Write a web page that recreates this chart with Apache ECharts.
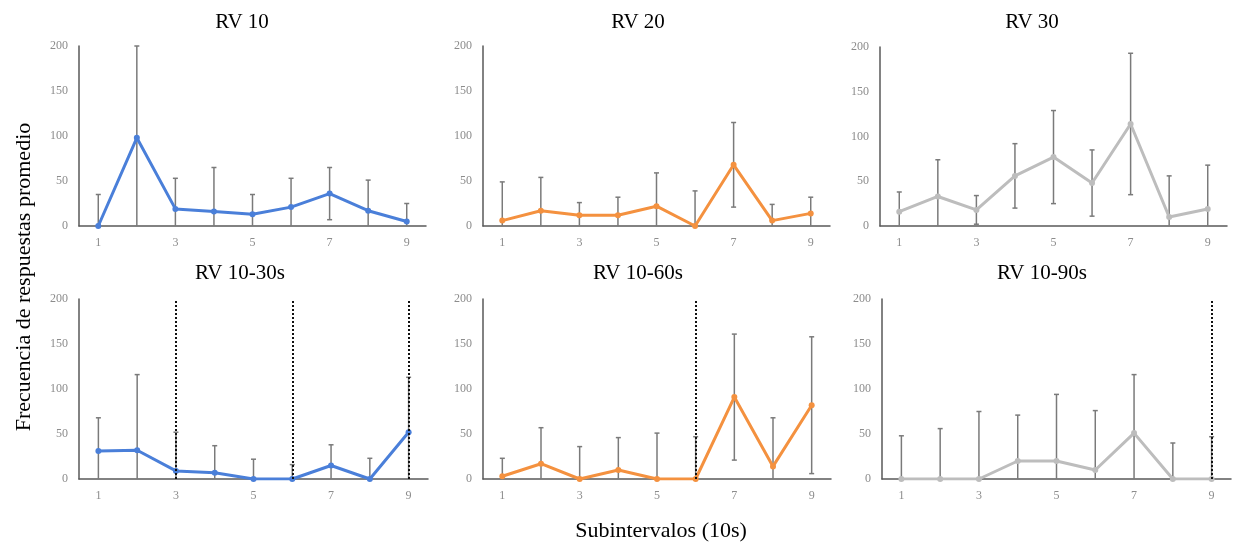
<!DOCTYPE html>
<html>
<head>
<meta charset="utf-8">
<script src="https://cdn.jsdelivr.net/npm/echarts@6/dist/echarts.min.js"></script>
<style>html,body{margin:0;padding:0;background:#fff}#c{width:1235px;height:548px}</style>
</head>
<body>
<div id="c"></div>
<script>
const categories = ['1','2','3','4','5','6','7','8','9'];
const panelTitles = ['RV 10','RV 20','RV 30','RV 10-30s','RV 10-60s','RV 10-90s'];
const yTicks = [0, 50, 100, 150, 200];

const rv10Mean = [0, 98, 19, 16, 13, 21, 36, 17, 5];
const rv10Sd   = [35, 102, 34, 49, 22, 32, 29, 34, 20];
const rv20Mean = [6, 17, 12, 12, 22, 0, 68, 6, 14];
const rv20Sd   = [43, 37, 14, 20, 37, 39, 47, 18, 18];
const rv30Mean = [16, 33, 18, 56, 77, 48, 114, 10, 19];
const rv30Sd   = [22, 41, 16, 36, 52, 37, 79, 46, 49];
const rv1030Mean = [31, 32, 9, 7, 0, 0, 15, 0, 52];
const rv1030Sd   = [37, 84, 43, 30, 22, 16, 23, 23, 61];
const rv1060Mean = [3, 17, 0, 10, 0, 0, 91, 14, 82];
const rv1060Sd   = [20, 40, 36, 36, 51, 47, 70, 54, 76];
const rv1090Mean = [0, 0, 0, 20, 20, 10, 51, 0, 0];
const rv1090Sd   = [48, 56, 75, 51, 74, 66, 65, 40, 47];

const rv1030Marks = ['3', '6', '9'];
const rv1060Marks = ['6'];
const rv1090Marks = ['9'];

const BLUE = '#4a7fd9', ORANGE = '#f4913f', GREY = '#bdbdbd';
const panels = [
  {mean: rv10Mean, sd: rv10Sd, color: BLUE, marks: []},
  {mean: rv20Mean, sd: rv20Sd, color: ORANGE, marks: []},
  {mean: rv30Mean, sd: rv30Sd, color: GREY, marks: []},
  {mean: rv1030Mean, sd: rv1030Sd, color: BLUE, marks: rv1030Marks},
  {mean: rv1060Mean, sd: rv1060Sd, color: ORANGE, marks: rv1060Marks},
  {mean: rv1090Mean, sd: rv1090Sd, color: GREY, marks: rv1090Marks}
];
const grids = [
  {left: 79, top: 46, width: 347, height: 180},
  {left: 483, top: 46, width: 347, height: 180},
  {left: 880, top: 47, width: 347, height: 179},
  {left: 79, top: 299, width: 349, height: 180},
  {left: 483, top: 299, width: 348, height: 180},
  {left: 882, top: 299, width: 349, height: 180}
];
const titlePos = [[242, 12], [638, 12], [1032, 12], [240, 263], [638, 263], [1042, 263]];
const YMAX = yTicks[yTicks.length - 1];
const FONT = '"Liberation Serif", "DejaVu Serif", serif';

const option = {
  backgroundColor: '#fff',
  animation: false,
  title: panelTitles.map((t, i) => ({
    text: t, left: titlePos[i][0], top: titlePos[i][1], textAlign: 'center', padding: 0,
    textStyle: {fontFamily: FONT, fontSize: 21, fontWeight: 'normal', color: '#000'}
  })),
  grid: grids,
  xAxis: grids.map((g, i) => ({
    type: 'category', gridIndex: i, data: categories, boundaryGap: true,
    axisLine: {lineStyle: {color: '#595959', width: 1.5}},
    axisTick: {show: false},
    axisLabel: {interval: 1, margin: 11, color: '#8c8c8c', fontFamily: FONT, fontSize: 12}
  })),
  yAxis: grids.map((g, i) => ({
    type: 'value', gridIndex: i, min: yTicks[0], max: YMAX, interval: 50,
    splitLine: {show: false},
    axisLine: {show: true, lineStyle: {color: '#595959', width: 1.5}},
    axisTick: {show: false},
    axisLabel: {margin: 11, color: '#8c8c8c', fontFamily: FONT, fontSize: 12}
  })),
  graphic: [
    {type: 'text', x: 661, y: 531,
     style: {text: 'Subintervalos (10s)', font: '22px ' + FONT, fill: '#000',
             align: 'center', verticalAlign: 'middle'}},
    {type: 'text', x: 24, y: 277, rotation: Math.PI / 2,
     style: {text: 'Frecuencia de respuestas promedio', font: '22px ' + FONT, fill: '#000',
             align: 'center', verticalAlign: 'middle'}}
  ],
  series: []
};

panels.forEach((p, i) => {
  const errData = p.mean.map((m, k) => [k, Math.max(0, m - p.sd[k]), Math.min(YMAX, m + p.sd[k])]);
  option.series.push({
    type: 'custom', xAxisIndex: i, yAxisIndex: i, z: 2,
    data: errData,
    renderItem: function (params, api) {
      const idx = api.value(0);
      const lo = api.coord([idx, api.value(1)]);
      const hi = api.coord([idx, api.value(2)]);
      const st = {stroke: '#7a7a7a', lineWidth: 1.5};
      const cw = 2.5;
      const children = [
        {type: 'line', shape: {x1: lo[0], y1: lo[1], x2: hi[0], y2: hi[1]}, style: st},
        {type: 'line', shape: {x1: hi[0] - cw, y1: hi[1], x2: hi[0] + cw, y2: hi[1]}, style: st}
      ];
      if (api.value(1) > 0) {
        children.push({type: 'line', shape: {x1: lo[0] - cw, y1: lo[1], x2: lo[0] + cw, y2: lo[1]}, style: st});
      }
      return {type: 'group', children: children};
    }
  });
  option.series.push({
    type: 'line', xAxisIndex: i, yAxisIndex: i, z: 3,
    data: p.mean,
    symbol: 'circle', symbolSize: 6,
    lineStyle: {color: p.color, width: 3},
    itemStyle: {color: p.color},
    markLine: p.marks.length ? {
      silent: true, symbol: ['none', 'none'], z: 5,
      label: {show: false},
      lineStyle: {color: '#111', type: 'dotted', width: 2},
      data: p.marks.map(m => ({xAxis: m}))
    } : undefined
  });
});

const chart = echarts.init(document.getElementById('c'), null, {renderer: 'canvas'});
chart.setOption(option);
</script>
</body>
</html>
